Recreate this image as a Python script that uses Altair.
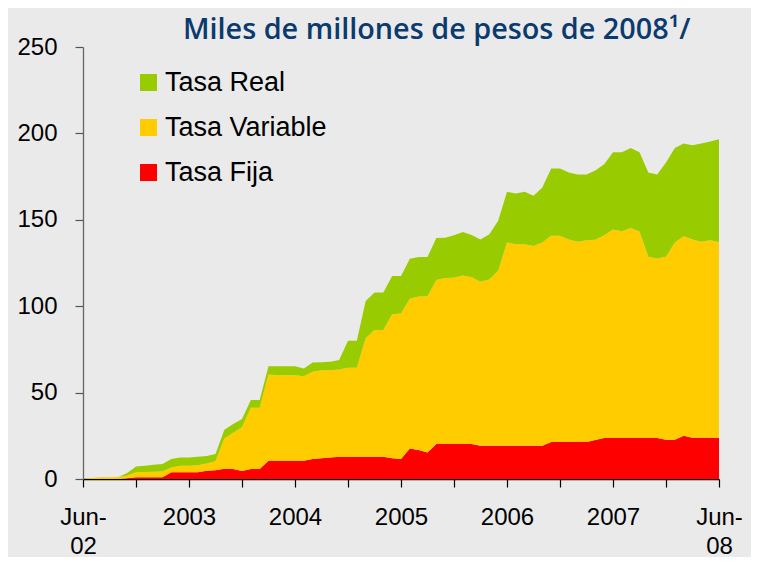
import altair as alt
import pandas as pd

# Monthly values, Jun-02 (index 0) to Jun-08 (index 72), miles de millones de pesos de 2008
fija = [0, 0, 0, 0, 0, 0.5, 1.0, 1.0, 1.0, 1.0,
        3.9, 3.9, 3.9, 3.9, 4.8, 5.0, 6.0, 5.8, 4.6, 5.8,
        5.8, 10.6, 10.6, 10.6, 10.6, 10.6, 11.6, 12.0, 12.5, 12.9,
        12.9, 12.9, 12.9, 12.9, 12.9, 12.0, 11.6, 17.7, 16.8, 15.4,
        20.3, 20.3, 20.3, 20.3, 20.3, 19.3, 19.3, 19.3, 19.3, 19.3,
        19.3, 19.3, 19.3, 21.4, 21.4, 21.4, 21.4, 21.4, 22.6, 23.7,
        23.7, 23.7, 23.7, 23.7, 23.7, 23.7, 22.7, 22.7, 25.0, 23.9,
        23.9, 23.9, 23.9]
variable = [0, 0.6, 1.0, 1.0, 1.2, 1.5, 2.9, 3.0, 3.2, 3.4,
            2.8, 3.8, 3.8, 4.1, 4.2, 5.2, 17.5, 21.0, 25.3, 35.4,
            35.4, 49.9, 49.5, 49.5, 49.5, 48.9, 50.4, 51.0, 50.5, 50.5,
            51.5, 51.5, 68.5, 73.3, 73.3, 83.4, 84.2, 86.6, 88.8, 90.4,
            94.8, 96.0, 96.1, 97.5, 96.5, 94.8, 96.2, 101.2, 117.6, 116.6,
            116.6, 115.5, 117.6, 119.3, 119.3, 117.2, 115.9, 116.8, 115.8, 117.4,
            120.7, 119.7, 121.6, 119.5, 104.9, 103.9, 105.9, 114.2, 115.5, 114.7,
            113.4, 114.3, 113.2]
real = [0, 0, 0, 0, 0, 1.5, 3.4, 3.7, 4.1, 4.3,
        4.9, 4.8, 4.8, 4.9, 4.3, 4.2, 5.0, 5.0, 4.8, 4.5,
        4.5, 4.8, 5.2, 5.2, 5.2, 4.5, 5.4, 4.6, 4.8, 5.4,
        15.6, 15.6, 21.6, 21.8, 21.8, 22.1, 21.7, 23.2, 22.9, 22.7,
        24.4, 23.3, 24.6, 25.2, 24.4, 24.5, 26.2, 28.9, 29.3, 29.3,
        30.3, 29.1, 31.8, 39.0, 39.0, 38.8, 38.9, 38.0, 40.1, 41.1,
        44.7, 45.7, 46.3, 45.9, 48.8, 48.6, 54.5, 54.7, 53.6, 54.6,
        56.8, 57.1, 59.5]

series = ["Tasa Real", "Tasa Variable", "Tasa Fija"]
colores = ["#99CC00", "#FFCC00", "#FF0000"]
orden_apilado = {"Tasa Fija": 1, "Tasa Variable": 2, "Tasa Real": 3}
ticks_x = list(range(0, 73, 6))
ticks_y = [0, 50, 100, 150, 200, 250]

rows = []
for i in range(len(fija)):
    for nombre, vals in (("Tasa Fija", fija), ("Tasa Variable", variable), ("Tasa Real", real)):
        rows.append({"t": i, "serie": nombre, "valor": vals[i], "orden": orden_apilado[nombre]})
df = pd.DataFrame(rows)

label_expr = ("datum.value == 0 ? ['Jun-', '02'] : datum.value == 72 ? ['Jun-', '08'] : "
              "(datum.value % 12 == 0 ? '' + (2002 + datum.value / 12) : '')")

chart = alt.Chart(df).mark_area(interpolate="linear").encode(
    x=alt.X("t:Q",
            scale=alt.Scale(domain=[0, 72], nice=False, zero=False),
            axis=alt.Axis(values=ticks_x, labelExpr=label_expr, title=None, grid=False,
                          labelFlush=False, labelOverlap=False, labelBound=False,
                          labelFontSize=24, labelFont="Liberation Sans", labelColor="#000000",
                          labelLineHeight=29, labelPadding=18, labelBaseline="top",
                          tickSize=8, tickColor="#000000", tickWidth=1.2,
                          domainColor="#000000", domainWidth=1.3)),
    y=alt.Y("valor:Q", stack="zero",
            scale=alt.Scale(domain=[0, 250], nice=False),
            axis=alt.Axis(values=ticks_y, title=None, grid=False, labelOverlap=False,
                          labelFontSize=24, labelFont="Liberation Sans", labelColor="#000000",
                          labelPadding=18, tickSize=8, tickColor="#555555", tickWidth=1.2,
                          domainColor="#666666", domainWidth=1.3)),
    color=alt.Color("serie:N",
                    scale=alt.Scale(domain=series, range=colores),
                    legend=alt.Legend(orient="none", legendX=52, legendY=22, title=None,
                                      symbolType="square", symbolSize=289,
                                      symbolStrokeWidth=0, symbolOpacity=1,
                                      labelFontSize=27, labelFont="Liberation Sans",
                                      labelColor="#000000", labelOffset=3, labelLimit=400,
                                      rowPadding=17, padding=0)),
    order=alt.Order("orden:Q"),
).properties(
    width=636,
    height=432,
    title=alt.TitleParams("Miles de millones de pesos de 2008¹/", anchor="start", frame="group",
                          dx=100, fontSize=28.8, font="Open Sans", fontWeight=600,
                          color="#0A3A6E", offset=-10),
    padding={"left": 75, "top": 39, "right": 32, "bottom": 78},
    autosize=alt.AutoSizeParams(type="none"),
    background="#EAEAEA",
).configure_view(stroke=None)

chart.save("out.html", embed_options={"renderer": "svg", "actions": False})
